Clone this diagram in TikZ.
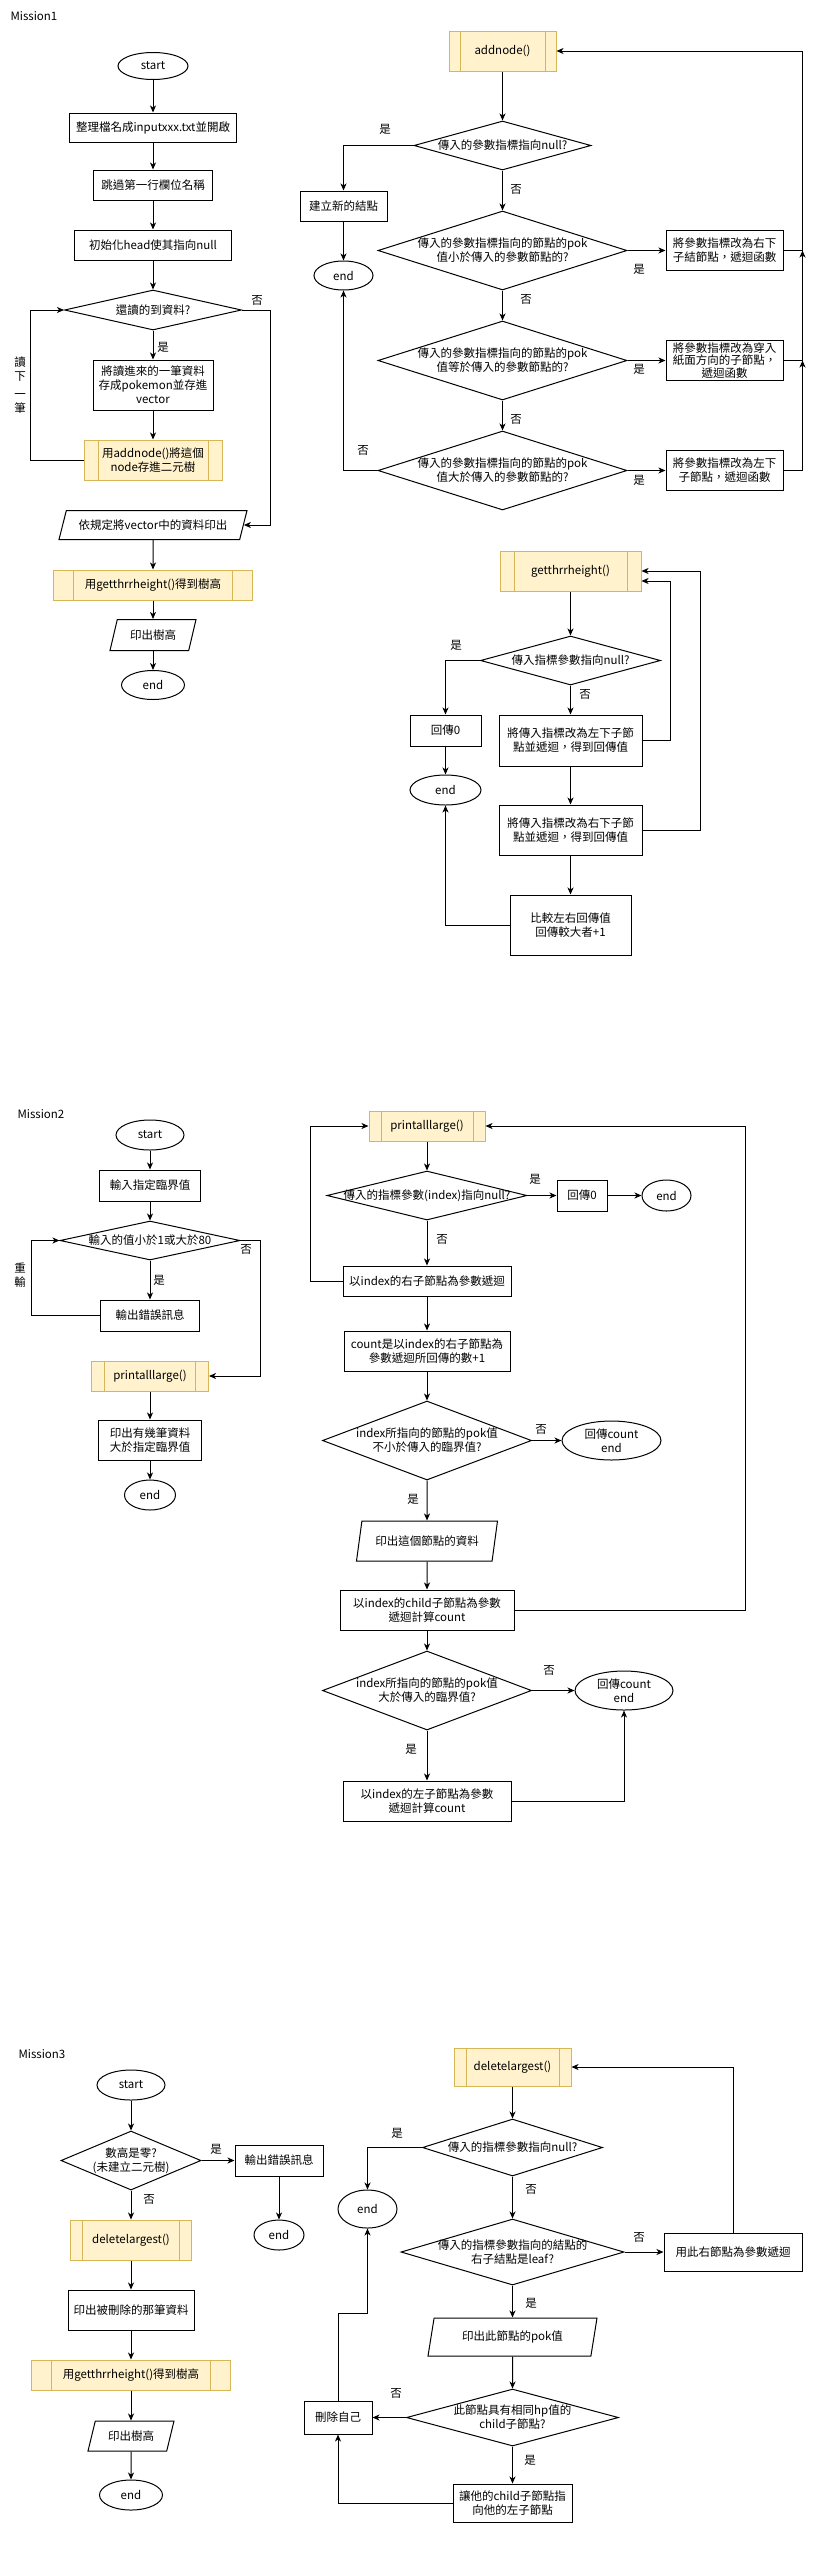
\documentclass[tikz,border=0pt]{standalone}
\usepackage{fontspec}
\setmainfont{Noto Sans CJK TC}
\usetikzlibrary{shapes.geometric,arrows.meta}

\begin{document}
\begin{tikzpicture}[x=1pt, y=-1pt, line width=1pt,
  every node/.style={font=\fontsize{11.5}{14}\selectfont, align=center},
  >={Stealth[length=7pt, width=6pt, inset=2pt]},
  term/.style={draw, ellipse, inner sep=0pt},
  box/.style={draw, rectangle, inner sep=1pt},
  dec/.style={draw, diamond, inner sep=0pt},
  io/.style={draw, trapezium, trapezium left angle=60, trapezium right angle=120,
    trapezium stretches body, inner sep=1pt},
  iotall/.style={io, trapezium left angle=67, trapezium right angle=113},
  proc/.style={draw=procline, fill=procfill, rectangle, inner sep=1pt,
    path picture={\draw[procline]
      ([xshift=#1]path picture bounding box.north west) -- ([xshift=#1]path picture bounding box.south west)
      ([xshift=-#1]path picture bounding box.north east) -- ([xshift=-#1]path picture bounding box.south east);}},
  lbl/.style={inner sep=0pt}]
\definecolor{procfill}{HTML}{FFF2CC}
\definecolor{procline}{HTML}{D6B656}
\useasboundingbox (0,0) rectangle (829,2551);

\node[lbl, anchor=west] (m1) at (10,16) {Mission1};
\node[term, minimum width=70, minimum height=27] (s1) at (153,66) {start};
\node[box, minimum width=167, minimum height=29] (a1) at (153,127.5) {整理檔名成inputxxx.txt並開啟};
\node[box, minimum width=119, minimum height=30] (a2) at (153,185) {跳過第一行欄位名稱};
\node[box, minimum width=157, minimum height=30] (a3) at (153,245) {初始化head使其指向null};
\node[dec, minimum width=177, minimum height=40, label=center:還讀的到資料?] (q1) at (153,310) {};
\node[box, minimum width=120, minimum height=50] (a4) at (153,385) {將讀進來的一筆資料\\存成pokemon並存進\\vector};
\node[proc=14, minimum width=138, minimum height=40] (a5) at (153,460) {用addnode()將這個\\node存進二元樹};
\node[io, minimum width=188, minimum height=29] (a6) at (153,525) {依規定將vector中的資料印出};
\node[proc=20, minimum width=199, minimum height=30] (a7) at (153,585) {用getthrrheight()得到樹高};
\node[io, minimum width=86, minimum height=31] (a8) at (153,635) {印出樹高};
\node[term, minimum width=63, minimum height=29] (e1) at (153,685) {end};
\draw[->] (s1) -- (a1);
\draw[->] (a1) -- (a2);
\draw[->] (a2) -- (a3);
\draw[->] (a3) -- (q1);
\draw[->] (q1) -- (a4);
\draw[->] (a4) -- (a5);
\draw[->] (a5.west) -- ++(-53,0) |- (q1.west);
\draw[->] (q1.east) -- ++(28,0) |- (a6.east);
\draw[->] (a6) -- (a7);
\draw[->] (a7) -- (a8);
\draw[->] (a8) -- (e1);
\node[lbl] at (257,300) {否};
\node[lbl] at (163,347) {是};
\node[lbl, font=\fontsize{11.5}{14}\selectfont] at (20,385) {讀\\下\\[4pt]一\\筆};

\node[proc=11, minimum width=107, minimum height=40] (p1) at (502.5,51) {addnode()};
\node[dec, minimum width=177, minimum height=49, label=center:傳入的參數指標指向null?] (d1) at (502.5,145.5) {};
\node[box, minimum width=87, minimum height=30] (n1) at (343.5,206) {建立新的結點};
\node[term, minimum width=59, minimum height=29] (e2) at (343.5,275.5) {end};
\node[dec, minimum width=249, minimum height=79, label={center:傳入的參數指標指向的節點的pok\\值小於傳入的參數節點的?}] (d2) at (502.5,250.5) {};
\node[dec, minimum width=249, minimum height=79, label={center:傳入的參數指標指向的節點的pok\\值等於傳入的參數節點的?}] (d3) at (502.5,360.5) {};
\node[dec, minimum width=249, minimum height=79, label={center:傳入的參數指標指向的節點的pok\\值大於傳入的參數節點的?}] (d4) at (502.5,470.5) {};
\node[box, minimum width=117, minimum height=40] (r1) at (724.5,250.5) {將參數指標改為右下\\子結節點，遞迴函數};
\node[box, minimum width=117, minimum height=40, inner ysep=0pt, font=\fontsize{11.5}{12.5}\selectfont] (r2) at (724.5,360.5) {將參數指標改為穿入\\紙面方向的子節點，\\遞迴函數};
\node[box, minimum width=117, minimum height=40] (r3) at (724.5,470.5) {將參數指標改為左下\\子節點，遞迴函數};
\draw[->] (p1) -- (d1);
\draw[->] (d1.west) -| (n1.north);
\draw[->] (n1) -- (e2);
\draw[->] (d1) -- (d2);
\draw[->] (d2) -- (d3);
\draw[->] (d3) -- (d4);
\draw[->] (d2) -- (r1);
\draw[->] (d3) -- (r2);
\draw[->] (d4) -- (r3);
\draw[->] (d4.west) -| (e2.south);
\draw[->] (r3.east) -| ([xshift=19]r2.east);
\draw[->] (r2.east) -| ([xshift=19]r1.east);
\draw[->] (r1.east) -- ++(19,0) |- (p1.east);
\node[lbl] at (385,129) {是};
\node[lbl] at (516,189) {否};
\node[lbl] at (639,269) {是};
\node[lbl] at (526,299) {否};
\node[lbl] at (639,369) {是};
\node[lbl] at (516,419) {否};
\node[lbl] at (639,480) {是};
\node[lbl] at (363,450) {否};

\node[proc=14, minimum width=141, minimum height=40] (p2) at (570.5,571) {getthrrheight()};
\node[dec, minimum width=180, minimum height=49, label=center:傳入指標參數指向null?] (d5) at (570.5,660.5) {};
\node[box, minimum width=71, minimum height=31] (n2) at (445.5,730.5) {回傳0};
\node[term, minimum width=71, minimum height=30] (e3) at (445.5,790) {end};
\node[box, minimum width=143, minimum height=51] (b1) at (570.5,740.5) {將傳入指標改為左下子節\\點並遞迴，得到回傳值};
\node[box, minimum width=143, minimum height=50] (b2) at (570.5,830) {將傳入指標改為右下子節\\點並遞迴，得到回傳值};
\node[box, minimum width=121, minimum height=60] (b3) at (570.5,925) {比較左右回傳值\\回傳較大者+1};
\draw[->] (p2) -- (d5);
\draw[->] (d5.west) -| (n2.north);
\draw[->] (n2) -- (e3);
\draw[->] (d5) -- (b1);
\draw[->] (b1) -- (b2);
\draw[->] (b2) -- (b3);
\draw[->] (b1.east) -- ++(28,0) |- ([yshift=-10]p2.east);
\draw[->] (b2.east) -- ++(58,0) |- (p2.east);
\draw[->] (b3.west) -| (e3.south);
\node[lbl] at (456,645) {是};
\node[lbl] at (585,694) {否};

\node[lbl, anchor=west] (m2) at (17,1114) {Mission2};
\node[term, minimum width=68, minimum height=30] (s2) at (150,1135) {start};
\node[box, minimum width=101, minimum height=31] (c1) at (150,1185.5) {輸入指定臨界值};
\node[dec, minimum width=180, minimum height=39, label=center:輸入的值小於1或大於80] (q2) at (150,1240.5) {};
\node[box, minimum width=99, minimum height=31] (c2) at (150,1315.5) {輸出錯誤訊息};
\node[proc=13, minimum width=117, minimum height=30] (c3) at (150,1376) {printalllarge()};
\node[box, minimum width=103, minimum height=40] (c4) at (150,1440) {印出有幾筆資料\\大於指定臨界值};
\node[term, minimum width=51, minimum height=30] (e4) at (150,1495) {end};
\draw[->] (s2) -- (c1);
\draw[->] (c1) -- (q2);
\draw[->] (q2) -- (c2);
\draw[->] (c2.west) -- ++(-69,0) |- (q2.west);
\draw[->] (q2.east) -- ++(20,0) |- (c3.east);
\draw[->] (c3) -- (c4);
\draw[->] (c4) -- (e4);
\node[lbl] at (246,1249) {否};
\node[lbl] at (159,1280) {是};
\node[lbl] at (20,1275) {重\\輸};

\node[proc=12, minimum width=116, minimum height=30] (p3) at (427,1126) {printalllarge()};
\node[dec, minimum width=200, minimum height=49, label=center:傳入的指標參數(index)指向null?] (d6) at (427,1195.5) {};
\node[box, minimum width=50, minimum height=31] (n3) at (582,1195.5) {回傳0};
\node[term, minimum width=49, minimum height=31] (e5) at (666.5,1195.5) {end};
\node[box, minimum width=168, minimum height=30] (f1) at (427,1281) {以index的右子節點為參數遞迴};
\node[box, minimum width=166, minimum height=40] (f2) at (427,1351) {count是以index的右子節點為\\參數遞迴所回傳的數+1};
\node[dec, minimum width=209, minimum height=79, label={center:index所指向的節點的pok值\\不小於傳入的臨界值?}] (d7) at (427,1440.5) {};
\node[term, minimum width=99, minimum height=39] (e6) at (611.5,1440.5) {回傳count\\end};
\node[iotall, minimum width=141, minimum height=40] (f3) at (427,1541) {印出這個節點的資料};
\node[box, minimum width=174, minimum height=40] (f4) at (427,1610) {以index的child子節點為參數\\遞迴計算count};
\node[dec, minimum width=209, minimum height=79, label={center:index所指向的節點的pok值\\大於傳入的臨界值?}] (d8) at (427,1690.5) {};
\node[term, minimum width=98, minimum height=39] (e7) at (624,1690.5) {回傳count\\end};
\node[box, minimum width=168, minimum height=40] (f5) at (427,1801) {以index的左子節點為參數\\遞迴計算count};
\draw[->] (p3) -- (d6);
\draw[->] (d6) -- (n3);
\draw[->] (n3) -- (e5);
\draw[->] (d6) -- (f1);
\draw[->] (f1.west) -- ++(-32,0) |- (p3.west);
\draw[->] (f1) -- (f2);
\draw[->] (f2) -- (d7);
\draw[->] (d7) -- (e6);
\draw[->] (d7) -- (f3);
\draw[->] (f3) -- (f4);
\draw[->] (f4.east) -- ++(231,0) |- (p3.east);
\draw[->] (f4) -- (d8);
\draw[->] (d8) -- (e7);
\draw[->] (d8) -- (f5);
\draw[->] (f5.east) -| (e7.south);
\node[lbl] at (535,1179) {是};
\node[lbl] at (442,1239) {否};
\node[lbl] at (541,1429) {否};
\node[lbl] at (413,1499) {是};
\node[lbl] at (549,1670) {否};
\node[lbl] at (411,1749) {是};

\node[lbl, anchor=west] (m3) at (18,2054) {Mission3};
\node[term, minimum width=68, minimum height=30] (s3) at (131,2085) {start};
\node[dec, minimum width=140, minimum height=59, label={center:數高是零?\\(未建立二元樹)}] (q3) at (131,2160.5) {};
\node[box, minimum width=88, minimum height=31] (g1) at (279,2160.5) {輸出錯誤訊息};
\node[term, minimum width=50, minimum height=30] (e8) at (279,2235) {end};
\node[proc=12, minimum width=121, minimum height=40] (g2) at (131,2240) {deletelargest()};
\node[box, minimum width=126, minimum height=40] (g3) at (131,2310) {印出被刪除的那筆資料};
\node[proc=20, minimum width=199, minimum height=30] (g4) at (131,2375) {用getthrrheight()得到樹高};
\node[io, minimum width=86, minimum height=30] (g5) at (131,2436) {印出樹高};
\node[term, minimum width=63, minimum height=30] (e9) at (131,2495) {end};
\draw[->] (s3) -- (q3);
\draw[->] (q3) -- (g1);
\draw[->] (g1) -- (e8);
\draw[->] (q3) -- (g2);
\draw[->] (g2) -- (g3);
\draw[->] (g3) -- (g4);
\draw[->] (g4) -- (g5);
\draw[->] (g5) -- (e9);
\node[lbl] at (216,2149) {是};
\node[lbl] at (149,2199) {否};

\node[proc=12, minimum width=117, minimum height=38] (p4) at (512.5,2067) {deletelargest()};
\node[dec, minimum width=180, minimum height=57, label=center:傳入的指標參數指向null?] (d9) at (512.5,2147.5) {};
\node[term, minimum width=59, minimum height=38] (e10) at (367.5,2209) {end};
\node[dec, minimum width=223, minimum height=66, label={center:傳入的指標參數指向的結點的\\右子結點是leaf?}] (d10) at (512.5,2252) {};
\node[box, minimum width=138, minimum height=38] (h1) at (733,2252) {用此右節點為參數遞迴};
\node[iotall, minimum width=169, minimum height=38] (h2) at (512.5,2337) {印出此節點的pok值};
\node[dec, minimum width=212, minimum height=57, label={center:此節點具有相同hp值的\\child子節點?}] (d11) at (512.5,2417.5) {};
\node[box, minimum width=68, minimum height=33] (h3) at (338,2417.5) {刪除自己};
\node[box, minimum width=119, minimum height=38] (h4) at (512.5,2503) {讓他的child子節點指\\向他的左子節點};
\draw[->] (p4) -- (d9);
\draw[->] (d9.west) -| (e10.north);
\draw[->] (d9) -- (d10);
\draw[->] (d10) -- (h1);
\draw[->] (h1.north) |- (p4.east);
\draw[->] (d10) -- (h2);
\draw[->] (h2) -- (d11);
\draw[->] (d11) -- (h3);
\draw[->] (d11) -- (h4);
\draw[->] (h4.west) -| (h3.south);
\draw[->] (h3.north) -- ++(0,-87) -| (e10.south);
\node[lbl] at (397,2133) {是};
\node[lbl] at (531,2189) {否};
\node[lbl] at (639,2237) {否};
\node[lbl] at (531,2303) {是};
\node[lbl] at (396,2393) {否};
\node[lbl] at (530,2460) {是};
\end{tikzpicture}
\end{document}
